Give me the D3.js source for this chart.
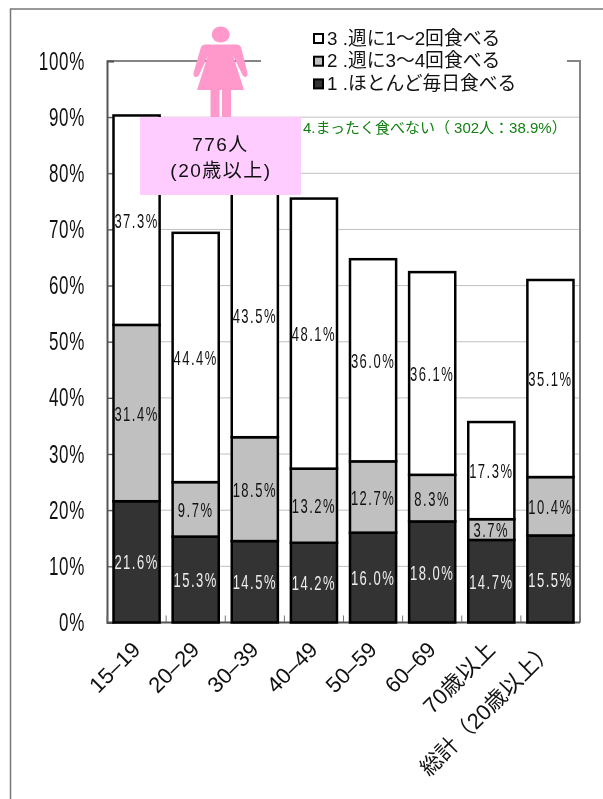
<!DOCTYPE html>
<html>
<head>
<meta charset="utf-8">
<script src="https://d3js.org/d3.v7.min.js"></script>
<style>
  html, body { margin: 0; padding: 0; background: #fff; }
  svg { display: block; will-change: transform; }
  text { font-family: "Liberation Sans", "Noto Sans CJK JP", sans-serif; }
</style>
</head>
<body>
<svg id="chart" width="603" height="799" style="background:#fff"></svg>
<script>
const ages = ["15–19", "20–29", "30–39", "40–49", "50–59", "60–69", "70歳以上", "総計（20歳以上）"];
const daily = [21.6, 15.3, 14.5, 14.2, 16.0, 18.0, 14.7, 15.5];
const threeFour = [31.4, 9.7, 18.5, 13.2, 12.7, 8.3, 3.7, 10.4];
const oneTwo = [37.3, 44.4, 43.5, 48.1, 36.0, 36.1, 17.3, 35.1];
const seriesNames = ["1 .ほとんど毎日食べる", "2 .週に3～4回食べる", "3 .週に1～2回食べる"];
const seriesFills = ["#333333", "#c0c0c0", "#ffffff"];
const labelFills = ["#eeeeee", "#111111", "#111111"];
const yTicks = [0, 10, 20, 30, 40, 50, 60, 70, 80, 90, 100];

const svg = d3.select("#chart");
const x = d3.scaleBand().domain(ages).range([107, 580]).paddingInner(0.22).paddingOuter(0.11);
const y = d3.scaleLinear().domain([0, 100]).range([622.5, 61]);

// outer frame, runs off the right and bottom of the picture
svg.append("path")
    .attr("d", "M10.5,799V9H603")
    .attr("fill", "none")
    .attr("stroke", "#777")
    .attr("stroke-width", 1.5);

// grid
svg.append("g")
    .selectAll("line")
    .data(yTicks.slice(1, -1))
    .join("line")
    .attr("x1", 107).attr("x2", 580)
    .attr("y1", d => y(d)).attr("y2", d => y(d))
    .attr("stroke", "#c0c0c0")
    .attr("stroke-width", 1);

// top and right of the plot area
svg.append("path")
    .attr("d", `M107,${y(100)}H580V${y(0)}`)
    .attr("fill", "none")
    .attr("stroke", "#858585")
    .attr("stroke-width", 2);

// left axis, labels squeezed sideways like the original
const yAxis = d3.axisLeft(y).tickValues(yTicks).tickFormat(d => d + "%").tickSize(-7);
const yG = svg.append("g").attr("transform", "translate(107,0)").call(yAxis);
yG.select(".domain").attr("stroke", "#555").attr("stroke-width", 2);
yG.selectAll(".tick line").attr("stroke", "#555").attr("stroke-width", 1.2);
yG.selectAll(".tick text")
    .attr("x", 0)
    .attr("transform", "translate(-22,0) scale(0.68,1)")
    .style("font-family", "'Liberation Sans', sans-serif")
    .attr("font-size", 25)
    .attr("letter-spacing", 1)
    .attr("fill", "#111");

// stacks
const stackRows = ages.map((a, i) => ({ age: a, s0: daily[i], s1: threeFour[i], s2: oneTwo[i] }));
const stacked = d3.stack().keys(["s0", "s1", "s2"])(stackRows);

// ticks between the categories
const bottomTicks = d3.range(ages.length + 1).map(i => 107 + i * (473 / ages.length));
svg.append("g")
    .selectAll("line")
    .data(bottomTicks)
    .join("line")
    .attr("x1", d => d).attr("x2", d => d)
    .attr("y1", y(0)).attr("y2", y(0) - 7)
    .attr("stroke", "#777")
    .attr("stroke-width", 1);

svg.append("line")
    .attr("x1", 107).attr("x2", 580)
    .attr("y1", y(0)).attr("y2", y(0))
    .attr("stroke", "#555")
    .attr("stroke-width", 2);

const layers = svg.append("g")
    .selectAll("g")
    .data(stacked)
    .join("g")
    .attr("fill", (d, i) => seriesFills[i]);

layers.selectAll("rect")
    .data(d => d)
    .join("rect")
    .attr("x", d => x(d.data.age))
    .attr("width", x.bandwidth())
    .attr("y", d => y(d[1]))
    .attr("height", d => y(d[0]) - y(d[1]))
    .attr("stroke", "#000")
    .attr("stroke-width", 2.5);

layers.selectAll("text")
    .data(d => d)
    .join("text")
    .attr("transform", d => `translate(${x(d.data.age) + x.bandwidth() / 2},${y((d[0] + d[1]) / 2)}) scale(0.62,1)`)
    .attr("dy", "0.36em")
    .attr("text-anchor", "middle")
    .attr("font-size", 21)
    .attr("letter-spacing", 2.4)
    .attr("fill", function () { return labelFills[stacked.indexOf(d3.select(this.parentNode).datum())]; })
    .text(d => (d[1] - d[0]).toFixed(1) + "%");

// category labels
svg.append("g")
    .selectAll("text")
    .data(ages)
    .join("text")
    .attr("transform", d => `translate(${x(d) + x.bandwidth() / 2 + 5},651) rotate(-45)`)
    .attr("text-anchor", "end")
    .attr("font-size", 22)
    .attr("fill", "#111")
    .text(d => d);

// white panel behind the legend hides the top of the plot area
svg.append("rect")
    .attr("x", 261).attr("y", 20)
    .attr("width", 306).attr("height", 90)
    .attr("fill", "#fff");

// legend, reversed like the stack
const legendRows = [2, 1, 0];
const legend = svg.append("g")
    .selectAll("g")
    .data(legendRows)
    .join("g")
    .attr("transform", (d, i) => `translate(313,${38 + i * 22.7})`);
legend.append("rect")
    .attr("x", 1).attr("y", -4)
    .attr("width", 9).attr("height", 9)
    .attr("fill", d => seriesFills[d])
    .attr("stroke", "#000")
    .attr("stroke-width", 2);
legend.append("text")
    .attr("x", 14)
    .attr("dy", "0.36em")
    .attr("font-size", 18.8)
    .attr("fill", "#111")
    .text(d => seriesNames[d]);

// pink figure
const figure = svg.append("g").attr("fill", "#ff99cc");
figure.append("ellipse").attr("cx", 220.7).attr("cy", 34.5).attr("rx", 9).attr("ry", 8);
figure.append("path")
    .attr("d", "M205,44.5H237Q240,44.5 241,47L247.5,73Q248,77 245,77Q243,77 242,74L233,55.5L244,90H197L208,55.5L199.5,74Q198.5,77 196,77Q193,77 193.5,73L201,47Q202,44.5 205,44.5Z");
figure.append("rect").attr("x", 210.5).attr("y", 89).attr("width", 9).attr("height", 28);
figure.append("rect").attr("x", 222).attr("y", 89).attr("width", 9).attr("height", 28);

// pink box
svg.append("rect")
    .attr("x", 140).attr("y", 117)
    .attr("width", 161).attr("height", 78)
    .attr("fill", "#ffccff");
const boxText = svg.append("g").attr("text-anchor", "middle").attr("fill", "#111").attr("font-size", 19);
boxText.append("text").attr("x", 220.5).attr("y", 151).attr("letter-spacing", 1.5).text("776人");
boxText.append("text").attr("x", 221).attr("y", 177).attr("letter-spacing", 1.5).text("(20歳以上)");

// note
svg.append("text")
    .attr("x", 303).attr("y", 133)
    .attr("font-size", 15)
    .attr("fill", "#128012")
    .text("4.まったく食べない（ 302人：38.9%）");
</script>
</body>
</html>
